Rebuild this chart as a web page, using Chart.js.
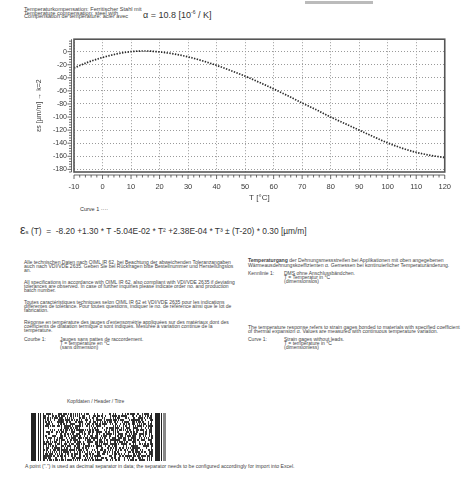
<!DOCTYPE html>
<html>
<head>
<meta charset="utf-8">
<script src="https://cdn.jsdelivr.net/npm/chart.js@4.4.1/dist/chart.umd.min.js"></script>
<style>
  html, body { margin: 0; padding: 0; background: #fff; }
  body { width: 461px; height: 478px; position: relative; overflow: hidden;
         font-family: "Liberation Sans", Arial, sans-serif; color: #333; }
  .t { position: absolute; white-space: nowrap; }
  .s { font-size: 5px; line-height: 3.9px; color: #444; }
  .lbl { display: inline-block; width: 36px; }
  #wrap { position: absolute; left: 0; top: 28px; width: 461px; height: 178px; }
  #barcode { position: absolute; left: 31px; top: 413px; }
</style>
</head>
<body>

<div class="t s" style="left:24px;top:8px;font-size:5.6px;line-height:3.7px;">Temperaturkompensation: Ferritischer Stahl mit<br>Temperature compensation: steel with<br>Compensation de température: acier avec</div>
<div class="t" style="left:143px;top:9px;font-size:9px;">α = 10.8 [10<sup style="font-size:5px">-6</sup> / K]</div>
<div class="t" style="left:305px;top:1px;width:68px;height:3px;background:#bbb;"></div>

<div id="wrap"><canvas id="chart"></canvas></div>

<div class="t" style="left:80px;top:206px;font-size:5.5px;">Curve 1 ····</div>

<div class="t" style="left:20px;top:223px;font-size:8.4px;"><span style="font-size:12.5px">ε</span><span style="font-size:6px">s</span> (T)&nbsp; =&nbsp; -8.20 +1.30 * T -5.04E-02 * T² +2.38E-04 * T³ ± (T-20) * 0.30 [µm/m]</div>

<div class="t s" style="left:24px;top:261px;">Alle technischen Daten nach OIML IR 62, bei Beachtung der abweichenden Toleranzangaben<br>auch nach VDI/VDE 2635. Geben Sie bei Rückfragen bitte Bestellnummer und Herstellungslos<br>an.</div>
<div class="t s" style="left:24px;top:281px;">All specifications in accordance with OIML IR 62, also compliant with VDI/VDE 2635 if deviating<br>tolerances are observed. In case of further inquiries please indicate order no. and production<br>batch number.</div>
<div class="t s" style="left:24px;top:301px;">Toutes caractéristiques techniques selon OIML IR 62 et VDI/VDE 2635 pour les indications<br>différentes de tolérance. Pour toutes questions, indiquer le no. de référence ainsi que le lot de<br>fabrication.</div>
<div class="t s" style="left:24px;top:321px;">Réponse en température des jauges d'extensométrie appliquées sur des matériaux dont des<br>coefficients de dilatation termique α sont indiqués. Mesurée à variation continue de la<br>température.</div>
<div class="t s" style="left:24px;top:338px;"><span class="lbl">Courbe 1:</span>Jauges sans pattes de raccordement.<br><span class="lbl"></span>T = température en °C<br><span class="lbl"></span>(sans dimension)</div>

<div class="t s" style="left:248px;top:258px;line-height:4.5px;font-size:5.1px;"><b>Temperaturgang</b> der Dehnungsmessstreifen bei Applikationen mit oben angegebenen<br>Wärmeausdehnungskoeffizienten α. Gemessen bei kontinuierlicher Temperaturänderung.</div>
<div class="t s" style="left:248px;top:272px;"><span class="lbl">Kennlinie 1:</span>DMS ohne Anschlussbändchen.<br><span class="lbl"></span>T = Temperatur in °C<br><span class="lbl"></span>(dimensionslos)</div>
<div class="t s" style="left:248px;top:326px;font-size:5.1px;">The temperature response refers to strain gages bonded to materials with specified coefficient<br>of thermal expansion α. Values are measured with continuous temperature variation.</div>
<div class="t s" style="left:248px;top:338px;"><span class="lbl">Curve 1:</span>Strain gages without leads.<br><span class="lbl"></span>T = temperature in °C<br><span class="lbl"></span>(dimensionless)</div>

<div class="t s" style="left:67px;top:400px;">Kopfdaten / Header / Titre</div>
<canvas id="barcode" width="136" height="48"></canvas>
<div class="t s" style="left:25px;top:465px;font-size:5.1px;">A point (".") is used as decimal separator in data; the separator needs to be configured accordingly for import into Excel.</div>

<script>
// Temperatur [°C] und Dehnung [µm/m]
const temps = [-10, -5, 0, 5, 10, 15, 20, 25, 30, 35, 40, 45, 50, 55, 60, 65, 70, 75, 80, 85, 90, 95, 100, 105, 110, 115, 120];
const strain = [-25, -16, -9, -3.5, 0, 1, -0.5, -3.5, -8, -14, -21, -29, -37.5, -47, -57, -67.5, -78.5, -89, -100, -110, -120, -130, -139.5, -147.5, -154, -158.5, -162];

const xTickValues = [-10, 0, 10, 20, 30, 40, 50, 60, 70, 80, 90, 100, 110, 120];
const yTickValues = [0, -20, -40, -60, -80, -100, -120, -140, -160, -180];

const ink = '#3a3a3a';

// Rahmen und Skalenlineale mit Zwischenstrichen
const frame = {
    id: 'frame',
    afterDatasetsDraw(chart) {
        const { ctx, chartArea: a, scales: { x, y } } = chart;
        ctx.save();
        ctx.strokeStyle = '#555';
        ctx.lineWidth = 1.6;
        ctx.strokeRect(a.left, a.top, a.width, a.height);

        ctx.strokeStyle = '#444';
        ctx.lineWidth = 0.8;
        ctx.beginPath();
        const by = a.bottom + 3;
        ctx.moveTo(a.left, by);
        ctx.lineTo(a.right, by);
        for (let v = x.min; v <= x.max; v += 2) {
            const px = x.getPixelForValue(v);
            ctx.moveTo(px, by);
            ctx.lineTo(px, by + (v % 10 === 0 ? 4 : 2.5));
        }
        const lx = a.left - 2.5;
        ctx.moveTo(lx, a.top);
        ctx.lineTo(lx, a.bottom);
        for (let v = -184; v <= y.max; v += 4) {
            const py = y.getPixelForValue(v);
            ctx.moveTo(lx, py);
            ctx.lineTo(lx - (v % 20 === 0 ? 4 : 2.5), py);
        }
        ctx.stroke();
        ctx.restore();
    }
};

new Chart(document.getElementById('chart'), {
    type: 'line',
    data: {
        datasets: [{
            label: 'Curve 1',
            data: temps.map((t, i) => ({ x: t, y: strain[i] })),
            borderColor: '#2a2a2a',
            borderWidth: 1.7,
            borderDash: [1.4, 1.4],
            pointRadius: 0,
            cubicInterpolationMode: 'monotone',
            fill: false
        }]
    },
    options: {
        responsive: true,
        maintainAspectRatio: false,
        animation: false,
        layout: { padding: { top: 7, right: 12, left: 0, bottom: 0 } },
        plugins: {
            legend: { display: false },
            tooltip: { enabled: false }
        },
        scales: {
            x: {
                type: 'linear',
                min: -10,
                max: 120,
                afterBuildTicks: (s) => { s.ticks = xTickValues.map(v => ({ value: v })); },
                afterFit: (s) => { s.height = 34; },
                grid: { color: '#9a9a9a', lineWidth: 1, drawTicks: false },
                border: { display: false, dash: [1, 2] },
                ticks: { color: ink, padding: 10, maxRotation: 0, font: { family: 'Liberation Sans', size: 7.5 } },
                title: { display: true, text: 'T [°C]', color: ink, padding: { top: 0, bottom: 3 },
                         font: { family: 'Liberation Sans', size: 8 } }
            },
            y: {
                min: -184,
                max: 19,
                afterBuildTicks: (s) => { s.ticks = yTickValues.map(v => ({ value: v })); },
                afterFit: (s) => { s.width = 74; },
                grid: { color: '#9a9a9a', lineWidth: 1, drawTicks: false },
                border: { display: false, dash: [1, 2] },
                ticks: { color: ink, padding: 7, font: { family: 'Liberation Sans', size: 7 } },
                title: { display: true, text: 'εs [µm/m] → k=2', color: ink, padding: { top: 35, bottom: 0 },
                         font: { family: 'Liberation Sans', size: 7 } }
            }
        }
    },
    plugins: [frame]
});

// Barcode (PDF417-artig), nur Dekoration
(function () {
    const c = document.getElementById('barcode').getContext('2d');
    c.fillStyle = '#fff';
    c.fillRect(0, 0, 136, 48);
    c.fillStyle = '#222';
    c.fillRect(0, 0, 5, 48);
    c.fillRect(7, 0, 1, 48);
    c.fillRect(9, 0, 1, 48);
    c.fillRect(124, 0, 5, 48);
    c.fillRect(130, 0, 1, 48);
    c.fillStyle = '#888';
    c.fillRect(132, 0, 3, 48);
    c.fillStyle = '#333';
    for (let r = 0; r < 24; r++) {
        for (let col = 12; col < 122; col++) {
            const h = Math.sin(r * 12.9898 + col * 78.233) * 43758.5453;
            if (h - Math.floor(h) > 0.5) c.fillRect(col, r * 2, 1, 2);
        }
    }
    c.fillStyle = '#222';
    [12, 30, 48, 66, 84, 102, 120].forEach(px => c.fillRect(px, 0, 1, 48));
})();
</script>
</body>
</html>
